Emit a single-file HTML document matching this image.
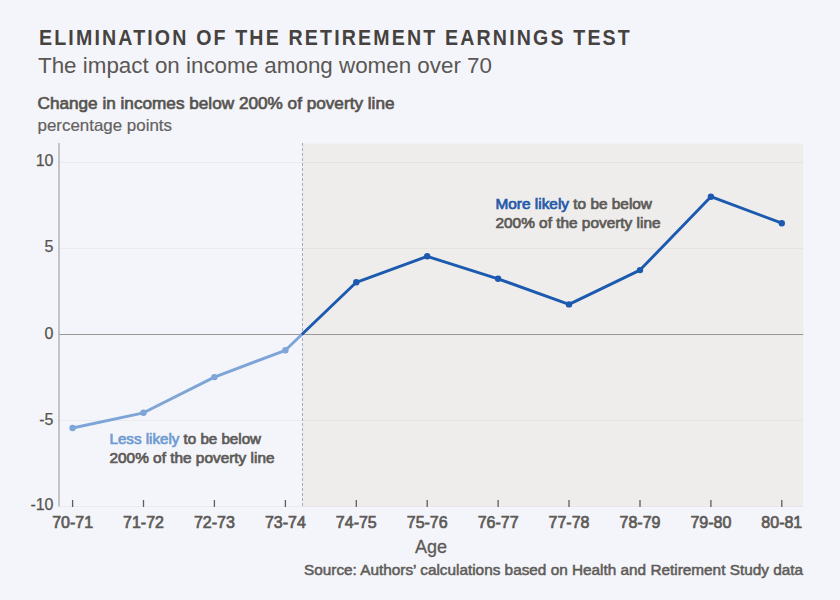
<!DOCTYPE html>
<html><head><meta charset="utf-8">
<style>
html,body{margin:0;padding:0;background:#f4f5fa;}
body{width:840px;height:600px;overflow:hidden;position:relative;font-family:"Liberation Sans",sans-serif;}
svg{position:absolute;left:0;top:0;}
</style></head>
<body>
<svg width="840" height="600" viewBox="0 0 840 600" font-family="Liberation Sans, sans-serif">
  <rect x="0" y="0" width="840" height="600" fill="#f4f5fa"/>
  <!-- titles -->
  <text transform="translate(39,45) scale(0.86,1)" x="0" y="0" font-size="22.8" font-weight="bold" fill="#46423f" textLength="687" lengthAdjust="spacing">ELIMINATION OF THE RETIREMENT EARNINGS TEST</text>
  <text x="38" y="72.5" font-size="22.3" fill="#5a5754" textLength="454" lengthAdjust="spacingAndGlyphs">The impact on income among women over 70</text>
  <text x="37.5" y="108.5" font-size="16.3" fill="#56534f" stroke="#56534f" stroke-width="0.65" textLength="357" lengthAdjust="spacingAndGlyphs">Change in incomes below 200% of poverty line</text>
  <text x="37.5" y="130.5" font-size="16.5" fill="#65625f" stroke="#65625f" stroke-width="0.2" textLength="134.5" lengthAdjust="spacingAndGlyphs">percentage points</text>

  <!-- shaded region -->
  <rect x="302.5" y="143.5" width="500.8" height="363" fill="#eeedeb"/>
  <!-- gridlines -->
  <g stroke="#000" stroke-opacity="0.038" stroke-width="1">
    <line x1="60" x2="803.3" y1="162.5" y2="162.5"/>
    <line x1="60" x2="803.3" y1="248.5" y2="248.5"/>
    <line x1="60" x2="803.3" y1="420.5" y2="420.5"/>
    <line x1="60" x2="803.3" y1="506.5" y2="506.5"/>
  </g>
  <line x1="59" x2="803.3" y1="334.5" y2="334.5" stroke="#9a9896" stroke-width="1.2"/>
  <!-- y axis -->
  <line x1="59" x2="59" y1="143" y2="506.5" stroke="#b8b8ba" stroke-width="1.6"/>
  <!-- dashed divider -->
  <line x1="302.5" x2="302.5" y1="143" y2="506.5" stroke="#9cabc6" stroke-width="1" stroke-dasharray="3,2"/>
  <!-- ticks -->
  <g stroke="#5f5d5b" stroke-width="1.3">
    <line x1="72.6" x2="72.6" y1="500" y2="507"/>
    <line x1="143.5" x2="143.5" y1="500" y2="507"/>
    <line x1="214.4" x2="214.4" y1="500" y2="507"/>
    <line x1="285.4" x2="285.4" y1="500" y2="507"/>
    <line x1="356.3" x2="356.3" y1="500" y2="507"/>
    <line x1="427.2" x2="427.2" y1="500" y2="507"/>
    <line x1="498.1" x2="498.1" y1="500" y2="507"/>
    <line x1="569.0" x2="569.0" y1="500" y2="507"/>
    <line x1="640.0" x2="640.0" y1="500" y2="507"/>
    <line x1="710.9" x2="710.9" y1="500" y2="507"/>
    <line x1="781.8" x2="781.8" y1="500" y2="507"/>
  </g>
  <!-- y labels -->
  <g font-size="16" fill="#57544f" stroke="#57544f" stroke-width="0.25" text-anchor="end">
    <text x="53.5" y="165.7">10</text>
    <text x="53.5" y="251.7">5</text>
    <text x="53.5" y="338.7">0</text>
    <text x="53.5" y="424.6">-5</text>
    <text x="53.5" y="509.8">-10</text>
  </g>
  <!-- x labels -->
  <g font-size="16" fill="#5d5a57" stroke="#5d5a57" stroke-width="0.7" text-anchor="middle">
    <text x="72.6" y="527.5">70-71</text>
    <text x="143.5" y="527.5">71-72</text>
    <text x="214.4" y="527.5">72-73</text>
    <text x="285.4" y="527.5">73-74</text>
    <text x="356.3" y="527.5">74-75</text>
    <text x="427.2" y="527.5">75-76</text>
    <text x="498.1" y="527.5">76-77</text>
    <text x="569.0" y="527.5">77-78</text>
    <text x="640.0" y="527.5">78-79</text>
    <text x="710.9" y="527.5">79-80</text>
    <text x="781.8" y="527.5">80-81</text>
  </g>
  <text x="431" y="552.5" font-size="18" fill="#5d5a57" stroke="#5d5a57" stroke-width="0.3" text-anchor="middle">Age</text>
  <text x="803" y="575.3" font-size="14" fill="#5f5c59" stroke="#5f5c59" stroke-width="0.5" text-anchor="end" textLength="499" lengthAdjust="spacingAndGlyphs">Source: Authors’ calculations based on Health and Retirement Study data</text>

  <!-- lines -->
  <polyline points="72.6,428.0 143.5,412.8 214.4,377.1 285.4,350.3 301.8,334.5" fill="none" stroke="#7da5d7" stroke-width="2.9" stroke-linejoin="round"/>
  <polyline points="301.8,334.5 356.3,282.3 427.2,256.3 498.1,278.8 569.0,304.4 640.0,270.1 710.9,196.7 781.8,223.2" fill="none" stroke="#1c5ab0" stroke-width="2.9" stroke-linejoin="round"/>
  <g fill="#7da5d7">
    <circle cx="72.6" cy="428.0" r="3.2"/>
    <circle cx="143.5" cy="412.8" r="3.2"/>
    <circle cx="214.4" cy="377.1" r="3.2"/>
    <circle cx="285.4" cy="350.3" r="3.2"/>
  </g>
  <g fill="#1c5ab0">
    <circle cx="356.3" cy="282.3" r="3.2"/>
    <circle cx="427.2" cy="256.3" r="3.2"/>
    <circle cx="498.1" cy="278.8" r="3.2"/>
    <circle cx="569.0" cy="304.4" r="3.2"/>
    <circle cx="640.0" cy="270.1" r="3.2"/>
    <circle cx="710.9" cy="196.7" r="3.2"/>
    <circle cx="781.8" cy="223.2" r="3.2"/>
  </g>

  <!-- annotations -->
  <g font-size="15" fill="#5d5a57" stroke="#5d5a57" stroke-width="0.7">
    <text x="109.5" y="443.7" textLength="151.5" lengthAdjust="spacingAndGlyphs"><tspan fill="#6e9bd1" stroke="#6e9bd1">Less likely</tspan> to be below</text>
    <text x="109.5" y="462.5" textLength="165" lengthAdjust="spacingAndGlyphs">200% of the poverty line</text>
    <text x="495.5" y="208.7" textLength="156.5" lengthAdjust="spacingAndGlyphs"><tspan fill="#2459aa" stroke="#2459aa">More likely</tspan> to be below</text>
    <text x="495.5" y="227.5" textLength="165" lengthAdjust="spacingAndGlyphs">200% of the poverty line</text>
  </g>
</svg>
</body></html>
